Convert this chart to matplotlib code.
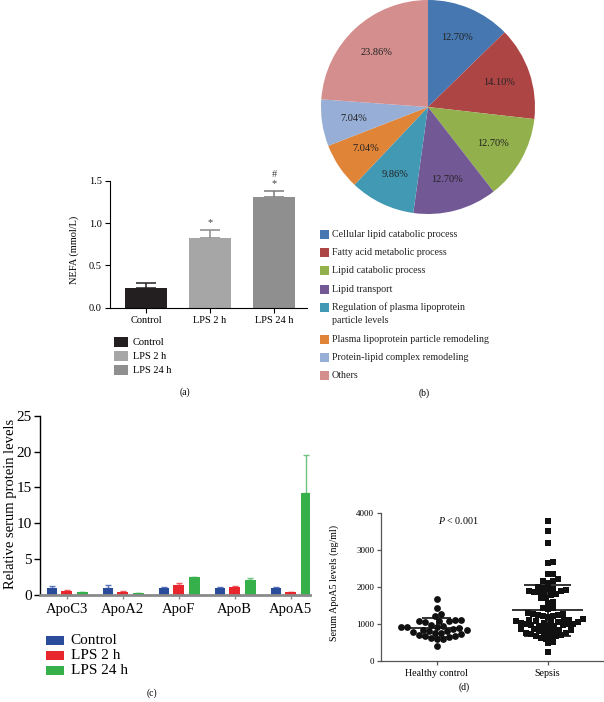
import matplotlib
matplotlib.use('Agg')
import matplotlib.pyplot as plt
from matplotlib.patches import Rectangle
import numpy as np

plt.rcParams['font.family'] = ['Liberation Serif', 'DejaVu Serif']
plt.rcParams['mathtext.fontset'] = 'custom'
plt.rcParams['mathtext.rm'] = 'Liberation Serif'
plt.rcParams['mathtext.it'] = 'Liberation Serif:italic'

# ---- data ----
nefa_groups = ['Control', 'LPS 2 h', 'LPS 24 h']
nefa_mean = [0.235, 0.83, 1.31]
nefa_err = [0.055, 0.09, 0.07]
nefa_marks = ['', '*', '#\n*']

go_terms = ['Cellular lipid catabolic process', 'Fatty acid metabolic process',
            'Lipid catabolic process', 'Lipid transport',
            'Regulation of plasma lipoprotein\nparticle levels',
            'Plasma lipoprotein particle remodeling',
            'Protein-lipid complex remodeling', 'Others']
go_pct = [12.70, 14.10, 12.70, 12.70, 9.86, 7.04, 7.04, 23.86]

apo_names = ['ApoC3', 'ApoA2', 'ApoF', 'ApoB', 'ApoA5']
apo_groups = ['Control', 'LPS 2 h', 'LPS 24 h']
apo_control = [0.95, 0.95, 1.0, 1.0, 1.0]
apo_control_err = [0.3, 0.4, 0.05, 0.05, 0.17]
apo_lps2 = [0.55, 0.45, 1.35, 1.15, 0.37]
apo_lps2_err = [0.1, 0.05, 0.28, 0.05, 0.05]
apo_lps24 = [0.37, 0.22, 2.47, 2.05, 14.2]
apo_lps24_err = [0.05, 0.03, 0.05, 0.37, 5.3]

d_groups = ['Healthy control', 'Sepsis']
healthy = [1680, 1430, 1250, 1210, 1100, 1090, 1080, 1070, 1060, 1050, 960, 940,
           920, 900, 900, 880, 860, 830, 820, 800, 790, 780, 760, 750, 720, 700,
           680, 660, 640, 620, 600, 590, 400]
sepsis = [3780, 3500, 3180, 2660, 2630, 2350, 2330, 2200, 2160, 2150, 2100,
          1980, 1960, 1950, 1930, 1900, 1890, 1880, 1860, 1850, 1820,
          1800, 1780, 1700, 1690, 1580, 1560, 1430, 1420, 1400,
          1280, 1260, 1250, 1240, 1230, 1220, 1200, 1190,
          1120, 1110, 1100, 1090, 1080, 1070, 1060, 1050, 1040, 1030, 1020,
          1000, 990, 980, 970, 960, 950, 940, 930,
          880, 860, 850, 840, 820, 810, 800,
          780, 760, 750, 730, 720, 700,
          680, 660, 640, 620, 600, 500, 470, 230]

# ---- styles ----
a_colors = ['#231f20', '#a6a6a6', '#8f8f8f']
a_err_colors = ['#231f20', '#8a8a8a', '#7a7a7a']
pie_colors = ['#4677b0', '#ae4545', '#92b04c', '#735896', '#4199b4',
              '#e08437', '#97afd6', '#d48e8e']
c_colors = ['#2b4c9b', '#e8262d', '#36b04a']
c_err_colors = ['#5c77b8', '#ef5a60', '#6ec47e']

W, H = 604, 702
fig = plt.figure(figsize=(W / 100, H / 100), dpi=100)


def rect(x0, y0, x1, y1):
    return [x0 / W, 1 - y1 / H, (x1 - x0) / W, (y1 - y0) / H]


def fx(x):
    return x / W


def fy(y):
    return 1 - y / H


def legend_box(x, y, w, h, color):
    fig.add_artist(Rectangle((fx(x), fy(y + h / 2)), w / W, h / H,
                             transform=fig.transFigure, color=color, lw=0))


# ---- (a) NEFA bars ----
axa = fig.add_axes(rect(110, 181, 307, 307.7))
xa = np.arange(len(nefa_groups))
axa.bar(xa, nefa_mean, width=0.656, color=a_colors, zorder=2)
for i in range(len(xa)):
    axa.errorbar(xa[i], nefa_mean[i], yerr=[[0], [nefa_err[i]]], fmt='none',
                 ecolor=a_err_colors[i], elinewidth=1.1, capsize=7, capthick=1.1, zorder=1)
    if nefa_marks[i]:
        axa.annotate(nefa_marks[i], (xa[i], nefa_mean[i] + nefa_err[i]),
                     xytext=(0, 2), textcoords='offset points', ha='center',
                     va='bottom', fontsize=7.5, color='#444444',
                     linespacing=1.0, annotation_clip=False)
axa.set_xlim(-0.5625, 2.516)
axa.set_ylim(0, 1.5)
axa.set_yticks([0, 0.5, 1.0, 1.5])
axa.set_yticklabels(['0.0', '0.5', '1.0', '1.5'])
axa.set_xticks(xa)
axa.set_xticklabels(nefa_groups)
axa.spines['top'].set_visible(False)
axa.spines['right'].set_visible(False)
for s in ['left', 'bottom']:
    axa.spines[s].set_linewidth(0.8)
axa.tick_params(labelsize=7.5, length=3.5, width=0.8, pad=2.5)
axa.set_ylabel('NEFA (mmol/L)', fontsize=7.5)
axa.yaxis.set_label_coords(-0.155, 0.46)

for i, g in enumerate(nefa_groups):
    y = 342 + i * 14.2
    legend_box(114, y, 14, 10, a_colors[i])
    fig.text(fx(133), fy(y), g, fontsize=7.5, va='center', ha='left')
fig.text(fx(185), fy(392), '(a)', fontsize=7, ha='center', va='center')

# ---- (b) GO pie ----
axb = fig.add_axes(rect(321, 0, 535, 214))
axb.pie(go_pct, colors=pie_colors, startangle=90, counterclock=False,
        autopct=lambda p: f'{p:.2f}%', pctdistance=0.7,
        textprops={'fontsize': 7.5, 'color': '#222222'})
axb.set_xlim(-1, 1)
axb.set_ylim(-1, 1)

y = 234.3
for term, col in zip(go_terms, pie_colors):
    legend_box(320, y, 9, 9, col)
    for j, line in enumerate(term.split('\n')):
        fig.text(fx(332), fy(y + j * 13.2), line, fontsize=7.2, va='center', ha='left',
                 color='#222222')
    y += 18.3 + 13.2 * term.count('\n')
fig.text(fx(424), fy(393), '(b)', fontsize=7, ha='center', va='center')

# ---- (c) apolipoprotein bars ----
axc = fig.add_axes(rect(40, 415.7, 310, 595))
xc = np.arange(len(apo_names))
series = [(apo_control, apo_control_err), (apo_lps2, apo_lps2_err),
          (apo_lps24, apo_lps24_err)]
offsets = [-0.265, 0.0, 0.28]
for k, (vals, errs) in enumerate(series):
    axc.bar(xc + offsets[k], vals, width=0.19, color=c_colors[k], zorder=2)
    axc.errorbar(xc + offsets[k], vals, yerr=[np.zeros(len(vals)), errs], fmt='none',
                 ecolor=c_err_colors[k], elinewidth=1.0, capsize=2.2, capthick=1.0,
                 zorder=1)
axc.set_xlim(-0.477, 4.345)
axc.set_ylim(0, 25)
axc.set_yticks(np.arange(0, 26, 5))
axc.set_xticks(xc)
axc.set_xticklabels(apo_names)
axc.spines['top'].set_visible(False)
axc.spines['right'].set_visible(False)
axc.spines['left'].set_linewidth(1.0)
axc.spines['bottom'].set_linewidth(2.0)
axc.spines['bottom'].set_color('#8a8a8a')
axc.spines['bottom'].set_zorder(3)
axc.tick_params(axis='y', labelsize=11, length=4, width=1.0, pad=2)
axc.tick_params(axis='x', labelsize=10.5, length=3, width=1.0, color='#8a8a8a', pad=3)
axc.set_ylabel('Relative serum protein levels', fontsize=10.5)
axc.yaxis.set_label_coords(-0.085, 0.51)

for i, g in enumerate(apo_groups):
    y = 640 + i * 15.4
    legend_box(45.7, y, 18, 9, c_colors[i])
    fig.text(fx(70.7), fy(y), g, fontsize=11, va='center', ha='left')
fig.text(fx(152), fy(693), '(c)', fontsize=7, ha='center', va='center')

# ---- (d) serum ApoA5 scatter ----
axd = fig.add_axes(rect(381, 512.7, 603, 660.7))
axd.set_xlim(0.5, 2.5)
axd.set_ylim(0, 4000)


def swarm_x(ax, center, vals, d):
    pts = ax.transData.transform(np.column_stack([np.full(len(vals), center), vals]))
    x0 = pts[0, 0]
    ys = pts[:, 1]
    inv = ax.transData.inverted()
    placed = []
    out = np.empty(len(vals))
    step = d / 3
    for n, i in enumerate(np.argsort(ys)):
        yv = ys[i]
        near = [(px, py) for px, py in placed if abs(py - yv) < d]
        sign = 1 if n % 2 == 0 else -1
        k = 0
        off = 0.0
        while True:
            cands = [0.0] if k == 0 else [sign * k * step, -sign * k * step]
            hit = None
            for c in cands:
                if all((c - px) ** 2 + (yv - py) ** 2 >= d * d for px, py in near):
                    hit = c
                    break
            if hit is not None:
                off = hit
                break
            k += 1
        placed.append((off, yv))
        out[i] = inv.transform((x0 + off, yv))[0]
    return out


d_vals = [healthy, sepsis]
d_markers = ['o', 's']
d_spacing = [6.0, 5.0]
mean_half = [0.24, 0.32]
sd_half = [0.135, 0.21]
for g, vals in enumerate(d_vals):
    center = g + 1
    xs = swarm_x(axd, center, vals, d_spacing[g])
    axd.scatter(xs, vals, s=24, marker=d_markers[g], color='#111111', lw=0, zorder=2)
    m = np.mean(vals)
    sd = np.std(vals, ddof=1)
    axd.hlines(m, center - mean_half[g], center + mean_half[g], color='#111111', lw=1.2, zorder=3)
    axd.hlines([m - sd, m + sd], center - sd_half[g], center + sd_half[g],
               color='#111111', lw=1.2, zorder=3)
    axd.vlines(center, m - sd, m + sd, color='#111111', lw=1.2, zorder=3)

axd.set_yticks(np.arange(0, 4001, 1000))
axd.set_xticks([1, 2])
axd.set_xticklabels(d_groups)
axd.spines['top'].set_visible(False)
axd.spines['right'].set_visible(False)
for s in ['left', 'bottom']:
    axd.spines[s].set_linewidth(0.9)
    axd.spines[s].set_color('#555555')
axd.tick_params(axis='y', labelsize=6.5, length=3, width=0.9, color='#555555', pad=2)
axd.tick_params(axis='x', labelsize=7.2, length=3, width=0.9, color='#555555', pad=3)
axd.set_ylabel('Serum ApoA5 levels (ng/ml)', fontsize=7.2)
axd.yaxis.set_label_coords(-0.19, 0.525)
fig.text(fx(458), fy(521), r'$P$ < 0.001', fontsize=7.2, ha='center', va='center')
fig.text(fx(464), fy(687), '(d)', fontsize=7, ha='center', va='center')

fig.savefig('out.png', dpi=100)
